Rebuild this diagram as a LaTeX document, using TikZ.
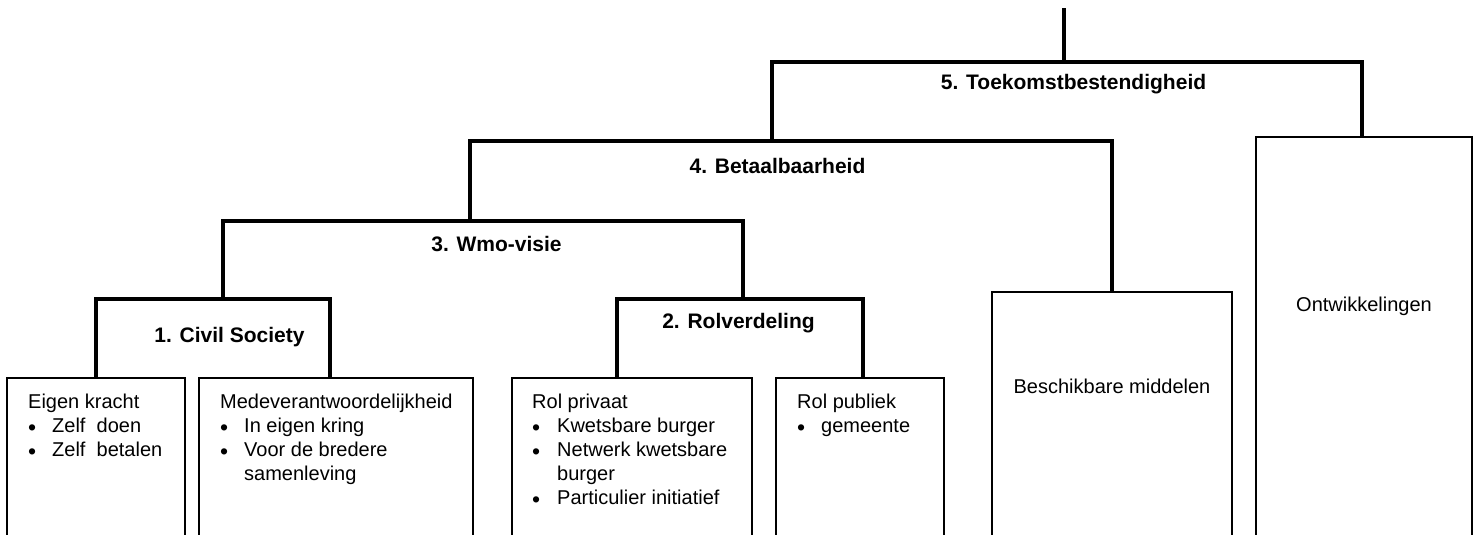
\documentclass[tikz,border=0pt]{standalone}
\usepackage{fontspec}
\setmainfont{Liberation Sans}
\newcommand{\mybul}{\raisebox{-3pt}{\scalebox{1.15}{\textbullet}}}
\begin{document}
\begin{tikzpicture}[x=1pt,y=-1pt,
  every node/.style={font=\fontsize{20}{24}\selectfont},
  box/.style={draw, line width=1.3pt, minimum height=450pt, inner sep=0pt, outer sep=0pt, anchor=north west},
  bar/.style={line width=4pt, line join=miter},
  lbl/.style={font=\fontsize{21}{24}\selectfont\bfseries, inner sep=0pt, anchor=base},
  txt/.style={inner sep=0pt, anchor=base west},
  ctxt/.style={inner sep=0pt, anchor=base}]
\useasboundingbox (0,0) rectangle (1477,535);
\clip (0,0) rectangle (1477,535);
% boxes
\node[box, minimum width=178pt] (b1) at (7,378) {};
\node[box, minimum width=274pt] (b2) at (199,378) {};
\node[box, minimum width=240pt] (b3) at (512,378) {};
\node[box, minimum width=168pt] (b4) at (776,378) {};
\node[box, minimum width=240pt] (b5) at (992,292) {};
\node[box, minimum width=216pt] (b6) at (1256,137) {};
% box texts
\node[txt] (t1) at (28,408) {\begin{tabular}[t]{@{}p{24pt}@{}l@{}}\multicolumn{2}{@{}l@{}}{Eigen kracht}\\ \mybul & Zelf\ \ doen\\ \mybul & Zelf\ \ betalen\end{tabular}};
\node[txt] (t2) at (220,408) {\begin{tabular}[t]{@{}p{24pt}@{}l@{}}\multicolumn{2}{@{}l@{}}{Medeverantwoordelijkheid}\\ \mybul & In eigen kring\\ \mybul & Voor de bredere\\ & samenleving\end{tabular}};
\node[txt] (t3) at (532,408) {\begin{tabular}[t]{@{}p{25pt}@{}l@{}}\multicolumn{2}{@{}l@{}}{Rol privaat}\\ \mybul & Kwetsbare burger\\ \mybul & Netwerk kwetsbare\\ & burger\\ \mybul & Particulier initiatief\end{tabular}};
\node[txt] (t4) at (797,408) {\begin{tabular}[t]{@{}p{24pt}@{}l@{}}\multicolumn{2}{@{}l@{}}{Rol publiek}\\ \mybul & gemeente\end{tabular}};
\node[ctxt] (t5) at (1112,393) {Beschikbare middelen};
\node[ctxt] (t6) at (1364,311) {Ontwikkelingen};
% junction coordinates
\coordinate (civ) at (223,299);
\coordinate (rol) at (743,299);
\coordinate (wmo) at (470,221);
\coordinate (bet) at (772,141);
\coordinate (toe) at (1064,62);
\coordinate (top) at (1064,8);
% brackets
\draw[bar] (b1.north) |- (civ) -| ([xshift=-6pt]b2.north);
\draw[bar] ([xshift=-15pt]b3.north) |- (rol) -| ([xshift=3pt]b4.north);
\draw[bar] (civ) |- (wmo) -| (rol);
\draw[bar] (wmo) |- (bet) -| (b5.north);
\draw[bar] (bet) |- (toe) -| ([xshift=-2pt]b6.north);
\draw[bar] (toe) -- (top);
% labels
\node[lbl] (l1) at (229.5,342) {1. Civil Society};
\node[lbl] (l2) at (738.5,328) {2. Rolverdeling};
\node[lbl] (l3) at (496.5,251) {3. Wmo-visie};
\node[lbl] (l4) at (777.5,173) {4. Betaalbaarheid};
\node[lbl] (l5) at (1073.5,89) {5. Toekomstbestendigheid};
\end{tikzpicture}
\end{document}
